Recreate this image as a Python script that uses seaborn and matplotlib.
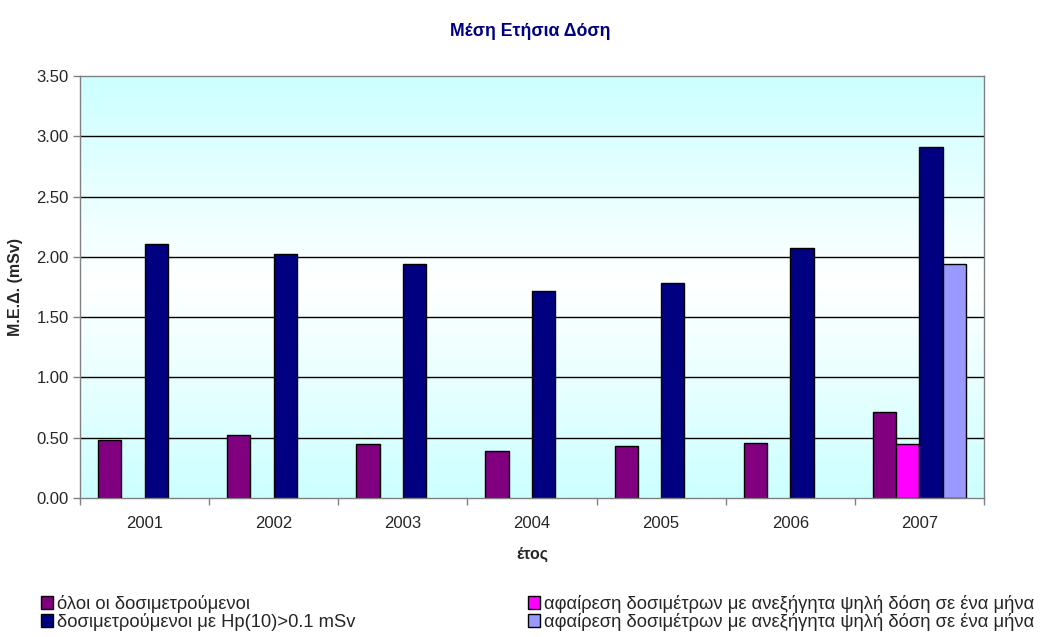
import numpy as np
import pandas as pd
import matplotlib
matplotlib.use("Agg")
import matplotlib.pyplot as plt
from matplotlib.colors import LinearSegmentedColormap
from matplotlib.patches import Patch
import seaborn as sns

# ---- data -------------------------------------------------------------
years = ["2001", "2002", "2003", "2004", "2005", "2006", "2007"]
all_monitored = [0.48, 0.52, 0.45, 0.39, 0.43, 0.46, 0.71]
all_monitored_corr = [np.nan, np.nan, np.nan, np.nan, np.nan, np.nan, 0.45]
above_threshold = [2.11, 2.02, 1.94, 1.72, 1.78, 2.07, 2.91]
above_threshold_corr = [np.nan, np.nan, np.nan, np.nan, np.nan, np.nan, 1.94]

series_keys = ["all", "all_corr", "high", "high_corr"]
series_labels = [
    "όλοι οι δοσιμετρούμενοι",
    "αφαίρεση δοσιμέτρων με ανεξήγητα ψηλή δόση σε ένα μήνα",
    "δοσιμετρούμενοι με Hp(10)>0.1 mSv",
    "αφαίρεση δοσιμέτρων με ανεξήγητα ψηλή δόση σε ένα μήνα",
]
series_colors = ["#800080", "#FF00FF", "#000080", "#9999FF"]

title = "Μέση Ετήσια Δόση"
ylabel = "Μ.Ε.Δ. (mSv)"
xlabel = "έτος"
yticks = [0.0, 0.5, 1.0, 1.5, 2.0, 2.5, 3.0, 3.5]

df = pd.DataFrame({
    "year": years * 4,
    "series": np.repeat(series_keys, len(years)),
    "dose": all_monitored + all_monitored_corr + above_threshold + above_threshold_corr,
})

# ---- figure -----------------------------------------------------------
sns.set_style("white")
plt.rcParams["font.family"] = ["Liberation Sans", "DejaVu Sans"]

fig = plt.figure(figsize=(10.43, 6.37), dpi=100)
ax = fig.add_axes([0.0767, 0.2182, 0.8667, 0.6625])

# plot-area gradient: cyan at the edges, white in the middle
cmap = LinearSegmentedColormap.from_list("plotarea", ["#CCFFFF", "#FFFFFF", "#CCFFFF"])
grad = np.linspace(0, 1, 256).reshape(-1, 1)
ax.imshow(grad, cmap=cmap, aspect="auto", extent=(-0.5, 6.5, 0, 3.5),
          origin="lower", zorder=0, interpolation="bilinear")

sns.barplot(data=df, x="year", y="dose", hue="series", hue_order=series_keys,
            palette=dict(zip(series_keys, series_colors)), order=years,
            width=0.72, gap=0, saturation=1, edgecolor="black", linewidth=1.0,
            errorbar=None, legend=False, ax=ax, zorder=3)

ax.set_xlim(-0.5, 6.5)
ax.set_ylim(0, 3.5)
ax.set_yticks(yticks)
ax.set_yticklabels([f"{v:.2f}" for v in yticks])
ax.set_xticks(range(len(years)))
ax.set_xticklabels(years)
ax.set_xticks(np.arange(-0.5, 7.0, 1.0), minor=True)

ax.grid(False)
for v in yticks[1:-1]:
    ax.axhline(v, color="black", linewidth=1.0, zorder=1)

for side in ["left", "bottom", "top", "right"]:
    ax.spines[side].set_color("#808080")
    ax.spines[side].set_linewidth(1.0)
    ax.spines[side].set_zorder(4)

ax.tick_params(axis="y", which="major", direction="out", length=5, width=1,
               color="#808080", labelsize=12, pad=3, left=True)
ax.tick_params(axis="x", which="major", length=0, labelsize=12, pad=13)
ax.tick_params(axis="x", which="minor", direction="out", length=5, width=1,
               color="#808080", bottom=True)

ax.set_xlabel(xlabel, fontsize=11.5, fontweight="bold", labelpad=11)
ax.set_ylabel(ylabel, fontsize=11.5, fontweight="bold", labelpad=10)

fig.text(0.508, 0.95, title, ha="center", va="center", fontsize=12.8,
         fontweight="bold", color="#000080")

# ---- legend in two columns -------------------------------------------
handles = [Patch(facecolor=c, edgecolor="black", linewidth=1.0) for c in series_colors]
common = dict(frameon=False, fontsize=13.2, handlelength=0.65, handleheight=0.65,
              handletextpad=0.25, labelspacing=0.0, borderpad=0, borderaxespad=0)
fig.legend([handles[0], handles[2]], [series_labels[0], series_labels[2]],
           loc="upper left", bbox_to_anchor=(0.039, 0.066), **common)
fig.legend([handles[1], handles[3]], [series_labels[1], series_labels[3]],
           loc="upper left", bbox_to_anchor=(0.506, 0.066), **common)

fig.savefig("out.png", dpi=100)
